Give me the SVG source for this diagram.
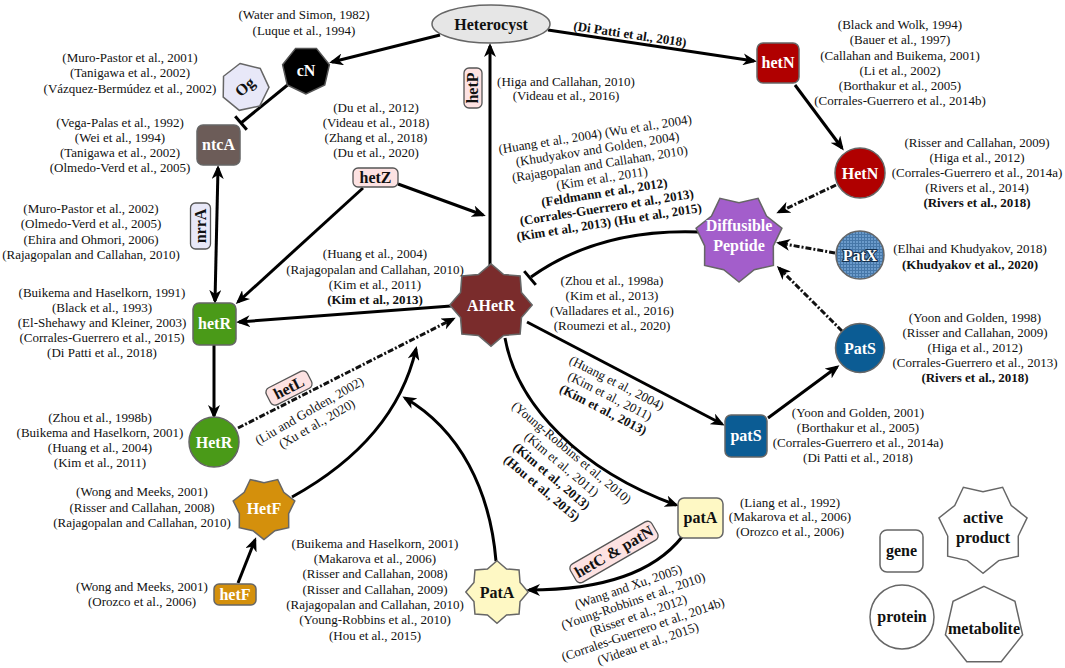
<svg xmlns="http://www.w3.org/2000/svg" width="1065" height="668" viewBox="0 0 1065 668">
<defs>
<style>
.c{font-family:"Liberation Serif","Times New Roman",serif;font-size:13px;text-anchor:middle;fill:#111}
.b{font-weight:bold}
.t{font-family:"Liberation Serif","Times New Roman",serif;font-weight:bold;text-anchor:middle;font-size:16px}
.w{fill:#fff}
.k{fill:#111}
.e{fill:none;stroke:#000;stroke-width:3}
.d{stroke-dasharray:6 2 2 2;stroke:#111}
.ns{stroke:#666;stroke-width:1.5}
.lab{fill:#fde2e2;stroke:#555;stroke-width:1.3}
.lav{fill:#e8e8f8;stroke:#555;stroke-width:1.3}
</style>
<marker id="ah" viewBox="0 0 14 12" refX="11" refY="6" markerWidth="14" markerHeight="12" markerUnits="userSpaceOnUse" orient="auto-start-reverse"><path d="M0,0 L14,6 L0,12 L4,6 z" fill="#000"/></marker>
<polygon id="s8" points="0,-40 12.25,-29.56 28.28,-28.28 29.56,-12.25 40,0 29.56,12.25 28.28,28.28 12.25,29.56 0,40 -12.25,29.56 -28.28,28.28 -29.56,12.25 -40,0 -29.56,-12.25 -28.28,-28.28 -12.25,-29.56"/>
<polygon id="s7" points="0,40 -13.88,28.83 -31.27,24.94 -31.2,7.12 -39,-8.9 -25.02,-19.95 -17.36,-36.04 0,-32 17.36,-36.04 25.02,-19.95 39,-8.9 31.2,7.12 31.27,24.94 13.88,28.83"/>
<polygon id="h7" points="0,-40 31.27,-24.94 39,8.9 17.36,36.04 -17.36,36.04 -39,8.9 -31.27,-24.94"/>
<pattern id="px" width="3" height="3" patternUnits="userSpaceOnUse"><rect width="3" height="3" fill="#6b9bcb"/><path d="M0,0.5H3M0.5,0V3" stroke="#4677a8" stroke-width="1"/></pattern>
</defs>
<rect width="1065" height="668" fill="#fff"/>

<g id="connectors">
<path class="e" d="M440,35 L332,62" marker-end="url(#ah)"/>
<path class="e" d="M548,30 L754,61" marker-end="url(#ah)"/>
<path class="e" d="M290,83 L241,123"/>
<path class="e" d="M235.2,116.2 L246.8,129.8"/>
<path class="e" d="M218,168 L215,301" marker-start="url(#ah)" marker-end="url(#ah)"/>
<path class="e" d="M398,184 L483,215" marker-end="url(#ah)"/>
<path class="e" d="M363,188 L238,302" marker-end="url(#ah)"/>
<path class="e" d="M490,265 L490,46" marker-end="url(#ah)"/>
<path class="e" d="M451,306 L239,322" marker-end="url(#ah)"/>
<path class="e" d="M214,345 L214,416" marker-end="url(#ah)"/>
<path class="e d" d="M238,428 L453,319" marker-end="url(#ah)"/>
<path class="e" d="M795,85 L842,148" marker-end="url(#ah)"/>
<path class="e d" d="M836,185 L779,212" marker-end="url(#ah)"/>
<path class="e d" d="M835,253 L779,243" marker-end="url(#ah)"/>
<path class="e d" d="M842,331 L779,268" marker-end="url(#ah)"/>
<path class="e" d="M768,418 L837,367" marker-end="url(#ah)"/>
<path class="e" d="M700,232 Q600,228 531,277"/>
<path class="e" d="M524.2,271.1 L535.8,284.9"/>
<path class="e" d="M527,322 L722,424" marker-end="url(#ah)"/>
<path class="e" d="M505,338 C517,405 580,470 676,505" marker-end="url(#ah)"/>
<path class="e" d="M682,537 Q640,590 529,590" marker-end="url(#ah)"/>
<path class="e" d="M496,561 C490,490 460,430 405,398" marker-end="url(#ah)"/>
<path class="e" d="M292,497 Q395,440 416,349" marker-end="url(#ah)"/>
<path class="e" d="M238,583 L255,540" marker-end="url(#ah)"/>
</g>

<g id="n-heterocyst">
<ellipse cx="491" cy="24" rx="59" ry="19" fill="#e6e6e6" class="ns"/>
<text class="t k" x="491" y="30" font-size="17">Heterocyst</text>
</g>
<g id="n-cN">
<use href="#h7" transform="translate(306,70) rotate(180) scale(0.6)" fill="#000" stroke="#555" stroke-width="2.5"/>
<text class="t w" x="306" y="76">cN</text>
</g>
<g id="n-Og">
<use href="#h7" transform="translate(245,87) rotate(-12) scale(0.6)" fill="#e8e8f8" stroke="#666" stroke-width="2.5"/>
<text class="t k" x="0" y="5" transform="translate(245,87) rotate(-40)">Og</text>
</g>
<g id="n-ntcA">
<rect x="197" y="125" width="43" height="40" rx="6" fill="#6c5c58" class="ns"/>
<text class="t w" x="218.5" y="150">ntcA</text>
</g>
<g id="n-nrrA" transform="translate(200.5,226) rotate(-90)">
<rect x="-23" y="-10" width="46" height="20" rx="5" class="lav"/>
<text class="t k" x="0" y="5" font-size="15">nrrA</text>
</g>
<g id="n-hetR">
<rect x="193" y="303" width="43" height="42" rx="6" fill="#4a9a18" class="ns"/>
<text class="t w" x="214.5" y="329">hetR</text>
</g>
<g id="n-HetR">
<circle cx="214" cy="442" r="25" fill="#4a9a18" class="ns"/>
<text class="t w" x="214" y="448">HetR</text>
</g>
<g id="n-hetL" transform="translate(289,388) rotate(-27)">
<rect x="-23" y="-9.5" width="46" height="19" rx="5" class="lab"/>
<text class="t k" x="0" y="5" font-size="15">hetL</text>
</g>
<g id="n-hetZ">
<rect x="353" y="168" width="45" height="19" rx="5" class="lab"/>
<text class="t k" x="375.5" y="183" font-size="15">hetZ</text>
</g>
<g id="n-hetP" transform="translate(473,88) rotate(-90)">
<rect x="-20" y="-9" width="40" height="18" rx="5" class="lab"/>
<text class="t k" x="0" y="5" font-size="14">hetP</text>
</g>
<g id="n-AHetR">
<use href="#s8" transform="translate(491,305) scale(1.03)" fill="#7a2c2c" stroke="#666" stroke-width="1.5"/>
<text class="t w" x="491" y="311">AHetR</text>
</g>
<g id="n-hetN">
<rect x="757" y="43" width="42" height="40" rx="6" fill="#b00000" class="ns"/>
<text class="t w" x="778" y="68">hetN</text>
</g>
<g id="n-HetN">
<circle cx="860" cy="173" r="25" fill="#b00000" class="ns"/>
<text class="t w" x="860" y="179">HetN</text>
</g>
<g id="n-Diffusible">
<use href="#s7" transform="translate(739,238) scale(1.1)" fill="#a35ecb" stroke="#666" stroke-width="1.4"/>
<text class="t w" x="739" y="231" font-size="13">Diffusible</text>
<text class="t w" x="739" y="251" font-size="13">Peptide</text>
</g>
<g id="n-PatX">
<circle cx="860" cy="255" r="24" fill="url(#px)" class="ns"/>
<text class="t w" x="860" y="261" font-size="17" stroke="#14304d" stroke-width="2.2" paint-order="stroke" stroke-linejoin="round">PatX</text>
</g>
<g id="n-PatS">
<circle cx="860" cy="348" r="24.5" fill="#0b5c94" class="ns"/>
<text class="t w" x="860" y="354">PatS</text>
</g>
<g id="n-patS">
<rect x="725" y="415" width="42" height="42" rx="6" fill="#0b5c94" class="ns"/>
<text class="t w" x="746" y="441">patS</text>
</g>
<g id="n-patA">
<rect x="678" y="498" width="45" height="40" rx="6" fill="#fef8c4" class="ns"/>
<text class="t k" x="700.5" y="523">patA</text>
</g>
<g id="n-hetCpatN" transform="translate(614,552) rotate(-30)">
<rect x="-47" y="-10.5" width="94" height="21" rx="5" class="lab"/>
<text class="t k" x="0" y="5" font-size="15">hetC &amp; patN</text>
</g>
<g id="n-PatA">
<use href="#s8" transform="translate(497,592) scale(0.78)" fill="#fef8c4" stroke="#666" stroke-width="1.9"/>
<text class="t k" x="497" y="598">PatA</text>
</g>
<g id="n-HetF">
<use href="#s7" transform="translate(264,508) scale(0.79)" fill="#d4900c" stroke="#666" stroke-width="1.9"/>
<text class="t w" x="264" y="514">HetF</text>
</g>
<g id="n-hetF">
<rect x="214" y="584" width="42" height="21" rx="5" fill="#d4900c" class="ns"/>
<text class="t w" x="235" y="600">hetF</text>
</g>

<g id="legend">
<rect x="880" y="530" width="43" height="42" rx="7" fill="#fff" class="ns"/>
<text class="t k" x="901.5" y="556">gene</text>
<use href="#s7" transform="translate(983,528) scale(1.13)" fill="#fff" stroke="#666" stroke-width="1.3"/>
<text class="t k" x="983" y="523">active</text>
<text class="t k" x="983" y="543">product</text>
<circle cx="902" cy="617" r="32" fill="#fff" class="ns"/>
<text class="t k" x="902" y="622">protein</text>
<use href="#h7" transform="translate(984,626) scale(0.99)" fill="#fff" stroke="#666" stroke-width="1.5"/>
<text class="t k" x="984" y="634" font-size="14.5">metabolite</text>
</g>

<g id="citations">
<text class="c" x="304" y="19">(Water and Simon, 1982)</text>
<text class="c" x="304" y="35">(Luque et al., 1994)</text>

<text class="c" x="130" y="62">(Muro-Pastor et al., 2001)</text>
<text class="c" x="130" y="77">(Tanigawa et al., 2002)</text>
<text class="c" x="130" y="93">(Vázquez-Bermúdez et al., 2002)</text>

<text class="c" x="120" y="127">(Vega-Palas et al., 1992)</text>
<text class="c" x="120" y="142">(Wei et al., 1994)</text>
<text class="c" x="120" y="157">(Tanigawa et al., 2002)</text>
<text class="c" x="120" y="172">(Olmedo-Verd et al., 2005)</text>

<text class="c" x="91" y="213">(Muro-Pastor et al., 2002)</text>
<text class="c" x="91" y="228">(Olmedo-Verd et al., 2005)</text>
<text class="c" x="91" y="244">(Ehira and Ohmori, 2006)</text>
<text class="c" x="91" y="259">(Rajagopalan and Callahan, 2010)</text>

<text class="c" x="102" y="297">(Buikema and Haselkorn, 1991)</text>
<text class="c" x="102" y="312">(Black et al., 1993)</text>
<text class="c" x="102" y="327">(El-Shehawy and Kleiner, 2003)</text>
<text class="c" x="102" y="342">(Corrales-Guerrero et al., 2015)</text>
<text class="c" x="102" y="357">(Di Patti et al., 2018)</text>

<text class="c" x="100" y="422">(Zhou et al., 1998b)</text>
<text class="c" x="100" y="437">(Buikema and Haselkorn, 2001)</text>
<text class="c" x="100" y="452">(Huang et al., 2004)</text>
<text class="c" x="100" y="467">(Kim et al., 2011)</text>

<text class="c" x="142" y="496">(Wong and Meeks, 2001)</text>
<text class="c" x="142" y="512">(Risser and Callahan, 2008)</text>
<text class="c" x="142" y="527">(Rajagopalan and Callahan, 2010)</text>

<text class="c" x="142" y="591">(Wong and Meeks, 2001)</text>
<text class="c" x="142" y="606">(Orozco et al., 2006)</text>

<text class="c" x="375" y="548">(Buikema and Haselkorn, 2001)</text>
<text class="c" x="375" y="563">(Makarova et al., 2006)</text>
<text class="c" x="375" y="578">(Risser and Callahan, 2008)</text>
<text class="c" x="375" y="594">(Risser and Callahan, 2009)</text>
<text class="c" x="375" y="609">(Rajagopalan and Callahan, 2010)</text>
<text class="c" x="375" y="624">(Young-Robbins et al., 2010)</text>
<text class="c" x="375" y="640">(Hou et al., 2015)</text>

<text class="c" x="376" y="112">(Du et al., 2012)</text>
<text class="c" x="376" y="127">(Videau et al., 2018)</text>
<text class="c" x="376" y="142">(Zhang et al., 2018)</text>
<text class="c" x="376" y="157">(Du et al., 2020)</text>

<text class="c" x="375" y="258">(Huang et al., 2004)</text>
<text class="c" x="375" y="274">(Rajagopalan and Callahan, 2010)</text>
<text class="c" x="375" y="289">(Kim et al., 2011)</text>
<text class="c b" x="375" y="304">(Kim et al., 2013)</text>

<text class="c" x="566" y="86">(Higa and Callahan, 2010)</text>
<text class="c" x="566" y="100">(Videau et al., 2016)</text>

<g transform="translate(602,178) rotate(-9)">
<text class="c" x="0" y="-40">(Huang et al., 2004) (Wu et al., 2004)</text>
<text class="c" x="0" y="-25">(Khudyakov and Golden, 2004)</text>
<text class="c" x="0" y="-10">(Rajagopalan and Callahan, 2010)</text>
<text class="c" x="0" y="4.5">(Kim et al., 2011)</text>
<text class="c b" x="0" y="19">(Feldmann et al., 2012)</text>
<text class="c b" x="0" y="34">(Corrales-Guerrero et al., 2013)</text>
<text class="c b" x="0" y="49">(Kim et al., 2013) (Hu et al., 2015)</text>
</g>

<g transform="translate(630,34) rotate(8.5)">
<text class="c b" x="0" y="4.5">(Di Patti et al., 2018)</text>
</g>

<text class="c" x="612" y="285">(Zhou et al., 1998a)</text>
<text class="c" x="612" y="300">(Kim et al., 2013)</text>
<text class="c" x="612" y="315">(Valladares et al., 2016)</text>
<text class="c" x="612" y="330">(Roumezi et al., 2020)</text>

<g transform="translate(610,396) rotate(27)">
<text class="c" x="0" y="-10.5">(Huang et al., 2004)</text>
<text class="c" x="0" y="4.5">(Kim et al., 2011)</text>
<text class="c b" x="0" y="19.5">(Kim et al., 2013)</text>
</g>

<g transform="translate(557,470) rotate(40)">
<text class="c" x="0" y="-18.5">(Young-Robbins et al., 2010)</text>
<text class="c" x="0" y="-3">(Kim et al., 2011)</text>
<text class="c b" x="0" y="12.5">(Kim et al., 2013)</text>
<text class="c b" x="0" y="28">(Hou et al., 2015)</text>
</g>

<g transform="translate(313,417) rotate(-30)">
<text class="c" x="0" y="-3">(Liu and Golden, 2002)</text>
<text class="c" x="0" y="12">(Xu et al., 2020)</text>
</g>

<g transform="translate(638,615) rotate(-19)">
<text class="c" x="0" y="-25.5">(Wang and Xu, 2005)</text>
<text class="c" x="0" y="-10.5">(Young-Robbins et al., 2010)</text>
<text class="c" x="0" y="4.5">(Risser et al., 2012)</text>
<text class="c" x="0" y="19.5">(Corrales-Guerrero et al., 2014b)</text>
<text class="c" x="0" y="34.5">(Videau et al., 2015)</text>
</g>

<text class="c" x="900" y="29">(Black and Wolk, 1994)</text>
<text class="c" x="900" y="44">(Bauer et al., 1997)</text>
<text class="c" x="900" y="60">(Callahan and Buikema, 2001)</text>
<text class="c" x="900" y="75">(Li et al., 2002)</text>
<text class="c" x="900" y="90">(Borthakur et al., 2005)</text>
<text class="c" x="900" y="105">(Corrales-Guerrero et al., 2014b)</text>

<text class="c" x="977" y="147">(Risser and Callahan, 2009)</text>
<text class="c" x="977" y="162">(Higa et al., 2012)</text>
<text class="c" x="977" y="177">(Corrales-Guerrero et al., 2014a)</text>
<text class="c" x="977" y="192">(Rivers et al., 2014)</text>
<text class="c b" x="977" y="207">(Rivers et al., 2018)</text>

<text class="c" x="970" y="253">(Elhai and Khudyakov, 2018)</text>
<text class="c b" x="970" y="269">(Khudyakov et al., 2020)</text>

<text class="c" x="975" y="322">(Yoon and Golden, 1998)</text>
<text class="c" x="975" y="337">(Risser and Callahan, 2009)</text>
<text class="c" x="975" y="352">(Higa et al., 2012)</text>
<text class="c" x="975" y="367">(Corrales-Guerrero et al., 2013)</text>
<text class="c b" x="975" y="382">(Rivers et al., 2018)</text>

<text class="c" x="858" y="417">(Yoon and Golden, 2001)</text>
<text class="c" x="858" y="432">(Borthakur et al., 2005)</text>
<text class="c" x="858" y="447">(Corrales-Guerrero et al., 2014a)</text>
<text class="c" x="858" y="462">(Di Patti et al., 2018)</text>

<text class="c" x="790" y="507">(Liang et al., 1992)</text>
<text class="c" x="790" y="521">(Makarova et al., 2006)</text>
<text class="c" x="790" y="536">(Orozco et al., 2006)</text>
</g>
</svg>
